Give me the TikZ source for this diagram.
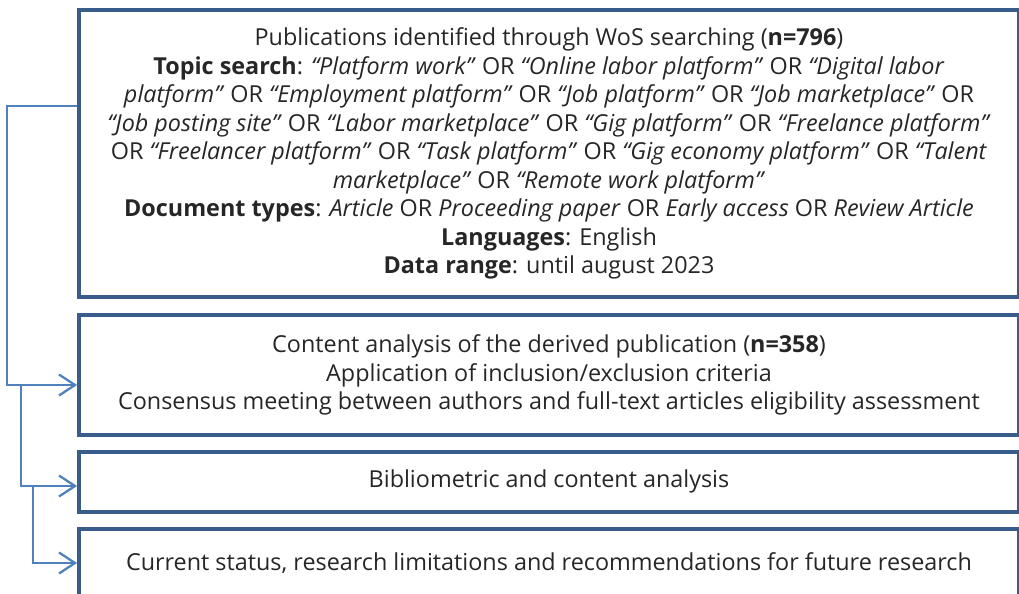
\documentclass[tikz,border=0pt]{standalone}
\usepackage{fontspec}
\setmainfont{Open Sans}
\usetikzlibrary{arrows.meta}
\definecolor{boxblue}{HTML}{385D8A}
\definecolor{linkblue}{HTML}{4F81BD}

\begin{document}
\begin{tikzpicture}[x=0.02cm,y=-0.02cm,
  stage/.style={draw=boxblue,line width=0.08cm,minimum width=18.8cm,align=center,inner sep=0pt,
    font=\fontsize{13.3}{16.2}\selectfont,text=black!85},
  flow/.style={draw=linkblue,line width=1.3pt,-{Straight Barb[length=0.32cm,width=0.42cm]}}]
\useasboundingbox (0,0) rectangle (1019,593);
\clip (0,0) rectangle (1019,593);
\node[stage,minimum height=5.74cm] (search) at (549,153.5) {Publications identified through WoS searching (\textbf{n=796})\\
\textbf{Topic search}: \textit{“Platform work”} OR \textit{“Online labor platform”} OR \textit{“Digital labor}\\
\textit{platform”} OR \textit{“Employment platform”} OR \textit{“Job platform”} OR \textit{“Job marketplace”} OR\\
\textit{“Job posting site”} OR \textit{“Labor marketplace”} OR \textit{“Gig platform”} OR \textit{“Freelance platform”}\\
OR \textit{“Freelancer platform”} OR \textit{“Task platform”} OR \textit{“Gig economy platform”} OR \textit{“Talent}\\
\textit{marketplace”} OR \textit{“Remote work platform”}\\
\textbf{Document types}: \textit{Article} OR \textit{Proceeding paper} OR \textit{Early access} OR \textit{Review Article}\\
\textbf{Languages}: English\\
\textbf{Data range}: until august 2023};
\node[stage,minimum height=2.4cm] (analysis) at (549,375) {Content analysis of the derived publication (\textbf{n=358})\\
Application of inclusion/exclusion criteria\\
Consensus meeting between authors and full-text articles eligibility assessment};
\node[stage,minimum height=1.2cm] (biblio) at (549,481.5) {Bibliometric and content analysis};
\node[stage,minimum height=1.36cm] (status) at (549,563) {Current status, research limitations and recommendations for future research};
\draw[flow] (search.west |- 0,106) -| (7,385) -- (analysis.west |- 0,385);
\draw[flow] (21,385) |- (biblio.west |- 0,486);
\draw[flow] (33,486) |- (status.west);
\end{tikzpicture}
\end{document}
